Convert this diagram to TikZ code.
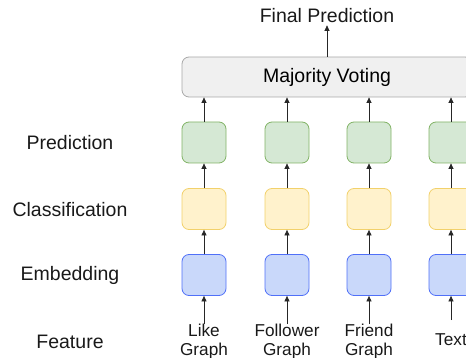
\documentclass[tikz,border=0pt]{standalone}
\usepackage{fontspec}
\setmainfont{Liberation Sans}
\usetikzlibrary{arrows.meta}
\definecolor{gfill}{HTML}{D5E8D4}\definecolor{gdraw}{HTML}{82B366}
\definecolor{yfill}{HTML}{FFF2CC}\definecolor{ydraw}{HTML}{F2D16B}
\definecolor{bfill}{HTML}{C9D8FA}\definecolor{bdraw}{HTML}{5070F8}
\definecolor{mfill}{HTML}{F0F0F0}\definecolor{mdraw}{HTML}{A8A8A8}
\begin{document}
\begin{tikzpicture}[x=1pt,y=-1pt,
  cell/.style={rounded corners=7pt,minimum width=44pt,minimum height=41pt,line width=0.8pt,inner sep=0pt},
  predbox/.style={cell,fill=gfill,draw=gdraw},
  clsbox/.style={cell,fill=yfill,draw=ydraw},
  embbox/.style={cell,fill=bfill,draw=bdraw},
  arr/.style={-{Triangle[length=5.5pt,width=5pt]},line width=0.7pt,black!85},
  lbl/.style={font=\fontsize{19.5}{22}\selectfont,text=black!90},
  feat/.style={font=\fontsize{17.2}{18.5}\selectfont,align=center,text=black!90,inner sep=0pt}]
\useasboundingbox (0,0) rectangle (466,358);
\begin{scope}
\clip (0,0) rectangle (466,358);
\node[rounded corners=7pt,fill=mfill,draw=mdraw,line width=0.8pt,minimum width=290pt,minimum height=40pt,inner sep=0pt,font=\fontsize{19.5}{22}\selectfont] (mv) at (327,77) {Majority Voting};
\node[lbl,inner sep=2pt] (fp) at (327,16) {Final Prediction};
\draw[arr] (mv.north) -- (fp.south);
\foreach \i/\x/\t in {1/204/{Like\\Graph},2/287/{Follower\\Graph},3/369/{Friend\\Graph}}{
  \node[predbox] (p\i) at (\x,142.5) {};
  \node[clsbox] (c\i) at (\x,209) {};
  \node[embbox] (e\i) at (\x,275) {};
  \node[feat,anchor=north] (f\i) at (\x,324) {\t};
  \draw[arr] (f\i.north) -- (e\i.south);
  \draw[arr] (e\i.north) -- (c\i.south);
  \draw[arr] (c\i.north) -- (p\i.south);
  \draw[arr] (p\i.north) -- (p\i.north |- mv.south);
}
\node[predbox] (p4) at (451,142.5) {};
\node[clsbox] (c4) at (451,209) {};
\node[embbox] (e4) at (451,275) {};
\node[feat] (f4) at (451,340) {Text};
\coordinate (f4top) at (451,320);
\draw[arr] (f4top) -- (e4.south);
\draw[arr] (e4.north) -- (c4.south);
\draw[arr] (c4.north) -- (p4.south);
\draw[arr] (p4.north) -- (p4.north |- mv.south);
\end{scope}
\node[lbl] (lp) at (70,143) {Prediction};
\node[lbl] (lc) at (70,210) {Classification};
\node[lbl] (le) at (70,275) {Embedding};
\node[lbl] (lf) at (70,342) {Feature};
\end{tikzpicture}
\end{document}
